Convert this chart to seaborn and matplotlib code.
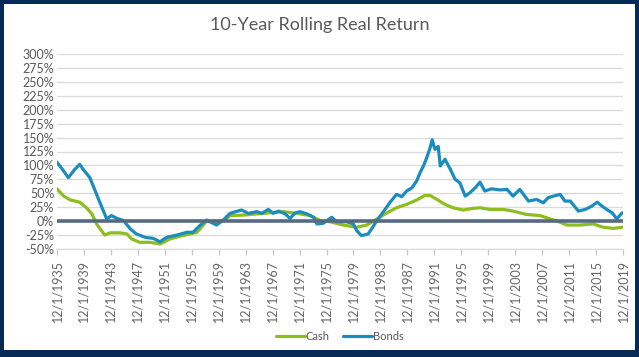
import matplotlib
matplotlib.use('Agg')
import matplotlib.pyplot as plt
import seaborn as sns
import pandas as pd
from matplotlib.patches import Rectangle
from matplotlib.ticker import FuncFormatter

# values (year as decimal, 10-year rolling real return in %)
bonds_year = [1935.9, 1936.6, 1937.6, 1938.5, 1939.3, 1939.8, 1940.8, 1941.6, 1942.3, 1943.3,
              1944.0, 1944.8, 1945.8, 1946.8, 1947.7, 1949.0, 1950.2, 1951.2, 1952.2, 1953.7,
              1955.2, 1956.1, 1957.1, 1958.1, 1959.6, 1960.6, 1961.6, 1963.3, 1964.3, 1965.6,
              1966.3, 1967.3, 1968.0, 1968.8, 1969.8, 1970.5, 1971.3, 1972.0, 1973.0, 1974.0,
              1974.5, 1975.4, 1976.7, 1977.4, 1978.9, 1979.9, 1980.4, 1981.1, 1982.1, 1982.6,
              1983.4, 1984.3, 1985.3, 1986.3, 1987.1, 1987.8, 1988.6, 1989.3, 1989.8, 1990.3,
              1990.8, 1991.3, 1991.6, 1992.0, 1992.5, 1992.8, 1993.5, 1994.3, 1995.0, 1995.7,
              1996.5, 1997.2, 1998.0, 1998.7, 1999.4, 2000.4, 2001.7, 2002.7, 2003.6, 2004.6,
              2005.9, 2007.1, 2008.1, 2008.8, 2009.6, 2010.6, 2011.3, 2012.1, 2013.3, 2014.3,
              2015.3, 2016.1, 2016.8, 2017.5, 2018.3, 2019.0, 2019.8]
bonds_ret = [106, 95, 78, 92, 102, 93, 78, 54, 33, 4,
             10, 5, 1, -14, -23, -29, -31, -37, -29, -25,
             -20, -20, -8, 2, -7, 2, 14, 20, 14, 17,
             14, 21, 14, 18, 13, 5, 15, 17, 13, 7,
             -5, -4, 7, -1, -1, -5, -17, -26, -23, -14,
             1, 16, 33, 48, 44, 54, 60, 72, 87, 99,
             114, 132, 146, 129, 134, 99, 111, 93, 75, 69,
             45, 51, 60, 70, 54, 58, 56, 57, 45, 57,
             36, 39, 33, 42, 45, 48, 36, 36, 18, 21,
             27, 34, 27, 21, 15, 4, 15]

cash_year = [1935.9, 1936.9, 1937.9, 1939.3, 1940.3, 1941.1, 1941.8, 1943.0, 1943.8, 1945.3,
             1946.3, 1947.0, 1948.2, 1949.7, 1951.2, 1952.7, 1954.2, 1955.7, 1956.7, 1958.1,
             1960.6, 1961.6, 1963.8, 1965.6, 1967.6, 1969.5, 1971.5, 1973.5, 1975.0, 1976.4,
             1978.4, 1980.4, 1981.9, 1983.4, 1984.9, 1986.3, 1987.8, 1989.3, 1990.5, 1991.3,
             1992.3, 1993.5, 1994.7, 1996.2, 1997.7, 1998.7, 2000.2, 2002.2, 2003.6, 2005.6,
             2007.6, 2009.1, 2010.6, 2011.6, 2013.5, 2015.5, 2017.0, 2018.5, 2019.8]
cash_ret = [58, 45, 38, 34, 24, 13, -5, -25, -21, -21,
            -23, -32, -38, -38, -41, -32, -27, -23, -20, 0,
            0, 10, 11, 13, 15, 17, 14, 10, 1, -1,
            -7, -11, -7, 4, 15, 24, 30, 38, 46, 46,
            39, 30, 24, 20, 23, 24, 21, 21, 18, 12,
            10, 4, -2, -7, -7, -5, -11, -13, -11]

tick_years = list(range(1935, 2020, 4))
tick_labels = [f"12/1/{y}" for y in tick_years]

cash_color = '#8DBD1E'
bonds_color = '#1A8CC0'
navy = '#062A55'
text_gray = '#595959'

sns.set_theme(style='white')
plt.rcParams['font.family'] = ['Lato', 'DejaVu Sans']

fig = plt.figure(figsize=(6.39, 3.57), dpi=100)
fig.patch.set_facecolor(navy)
fig.patches.append(Rectangle((4 / 639, 7 / 357), 631 / 639, 346 / 357,
                             transform=fig.transFigure, facecolor='white',
                             edgecolor='none', zorder=-10))

ax = fig.add_axes([57 / 639, 1 - 249 / 357, 566 / 639, 195 / 357])
ax.set_facecolor('white')

sns.lineplot(x=cash_year, y=cash_ret, ax=ax, color=cash_color, linewidth=2.3,
             label='Cash', sort=False, estimator=None, zorder=3)
sns.lineplot(x=bonds_year, y=bonds_ret, ax=ax, color=bonds_color, linewidth=2.3,
             label='Bonds', sort=False, estimator=None, zorder=4)
ax.axhline(0, color='#566A82', linewidth=2.6, zorder=5)

ax.set_xlim(1935.92, 2019.92)
ax.set_ylim(-50, 300)
ax.set_yticks(range(-50, 301, 25))
ax.yaxis.set_major_formatter(FuncFormatter(lambda v, p: f"{int(v)}%"))
ax.set_xticks([y + 0.92 for y in tick_years])
ax.set_xticklabels(tick_labels, rotation=90)
ax.grid(axis='y', color='#D9D9D9', linewidth=0.9)
ax.set_axisbelow(True)

for s in ['top', 'right', 'left']:
    ax.spines[s].set_visible(False)
ax.spines['bottom'].set_color('#D9D9D9')
ax.spines['bottom'].set_linewidth(0.9)

ax.tick_params(axis='y', labelsize=9, labelcolor=text_gray, length=0, pad=2)
ax.tick_params(axis='x', labelsize=9, labelcolor='#666666', length=4, width=0.9,
               color='#C8C8C8', direction='out', bottom=True, pad=4)
ax.set_xlabel('')
ax.set_ylabel('')

fig.text(0.5, 1 - 25 / 357, '10-Year Rolling Real Return', ha='center', va='center',
         fontsize=13, color=text_gray)

ax.legend(loc='center', bbox_to_anchor=(0.5, (249 - 336) / 195), ncol=2, frameon=False,
          fontsize=8, handlelength=2.6, handletextpad=0.1, columnspacing=1.2,
          labelcolor=text_gray)

fig.savefig('out.png', dpi=100, facecolor=fig.get_facecolor())
